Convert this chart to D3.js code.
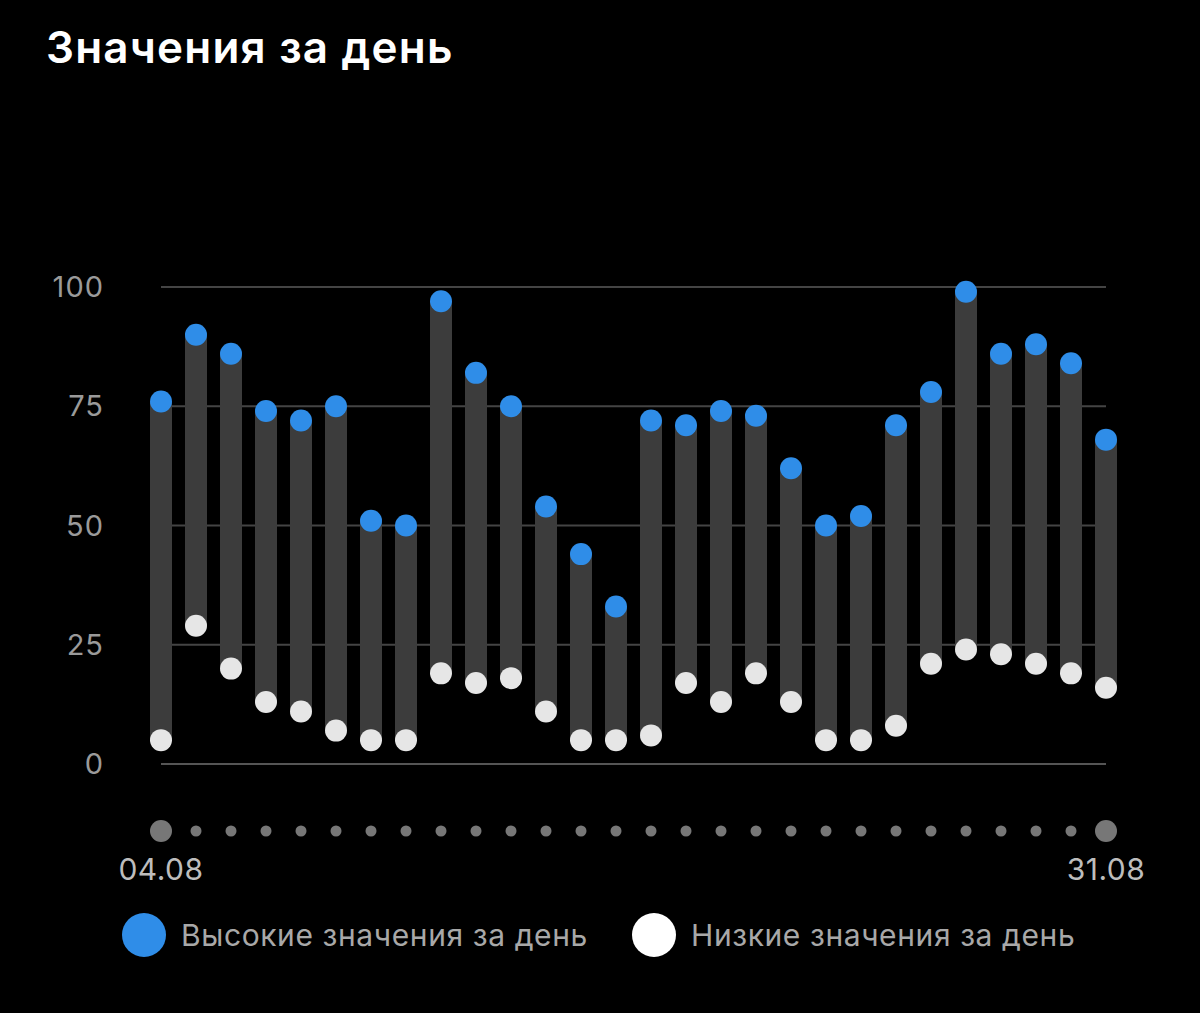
<!DOCTYPE html>
<html>
<head>
<meta charset="utf-8">
<script src="https://cdn.jsdelivr.net/npm/d3@7"></script>
<style>
  html, body { margin: 0; padding: 0; background: #000; }
  svg { display: block; }
</style>
</head>
<body>
<div id="chart"></div>
<script>
// daily high / low readings, 04.08 – 31.08
const days = ['04.08','05.08','06.08','07.08','08.08','09.08','10.08','11.08','12.08','13.08',
  '14.08','15.08','16.08','17.08','18.08','19.08','20.08','21.08','22.08','23.08',
  '24.08','25.08','26.08','27.08','28.08','29.08','30.08','31.08'];
const highValues = [76, 90, 86, 74, 72, 75, 51, 50, 97, 82, 75, 54, 44, 33, 72, 71, 74, 73, 62, 50,
  52, 71, 78, 99, 86, 88, 84, 68];
const lowValues = [5, 29, 20, 13, 11, 7, 5, 5, 19, 17, 18, 11, 5, 5, 6, 17, 13, 19, 13, 5,
  5, 8, 21, 24, 23, 21, 19, 16];
const yTicks = [0, 25, 50, 75, 100];
const legendLabels = ['Высокие значения за день', 'Низкие значения за день'];

(function() {
  const width = 1200;
  const height = 1013;
  const font = 'Inter, Roboto, sans-serif';

  const svg = d3.select('#chart').append('svg')
    .attr('width', width)
    .attr('height', height);

  svg.append('rect').attr('width', width).attr('height', height).attr('fill', '#000');

  svg.append('text')
    .attr('x', 46)
    .attr('y', 63)
    .attr('fill', '#fff')
    .style('font-family', font)
    .style('font-size', '44px')
    .style('font-weight', 600)
    .style('letter-spacing', '1.2px')
    .text('Значения за день');

  const x = d3.scalePoint().domain(days).range([161, 1106]);
  const y = d3.scaleLinear().domain([0, 100]).range([764, 287]);

  // grid + y labels
  const grid = svg.append('g');
  grid.selectAll('line')
    .data(yTicks)
    .enter().append('line')
    .attr('x1', 161)
    .attr('x2', 1106)
    .attr('y1', d => y(d))
    .attr('y2', d => y(d))
    .attr('stroke', d => d === 0 ? '#555' : '#444')
    .attr('stroke-width', 2);

  grid.selectAll('text')
    .data(yTicks)
    .enter().append('text')
    .attr('x', 104)
    .attr('y', d => y(d))
    .attr('dy', '0.35em')
    .attr('text-anchor', 'end')
    .attr('fill', '#9a9a9a')
    .style('font-family', font)
    .style('font-size', '29px')
    .style('letter-spacing', '1px')
    .text(d => d);

  const rows = days.map((d, i) => ({ day: d, high: highValues[i], low: lowValues[i] }));

  // range bars
  svg.append('g').selectAll('rect')
    .data(rows)
    .enter().append('rect')
    .attr('x', d => x(d.day) - 11)
    .attr('width', 22)
    .attr('y', d => y(d.high))
    .attr('height', d => y(d.low) - y(d.high))
    .attr('fill', '#3c3c3c');

  svg.append('g').selectAll('circle')
    .data(rows)
    .enter().append('circle')
    .attr('cx', d => x(d.day))
    .attr('cy', d => y(d.low))
    .attr('r', 11)
    .attr('fill', '#e6e6e6');

  svg.append('g').selectAll('circle')
    .data(rows)
    .enter().append('circle')
    .attr('cx', d => x(d.day))
    .attr('cy', d => y(d.high))
    .attr('r', 11)
    .attr('fill', '#2f8de8');

  // day dots under the chart
  const last = days.length - 1;
  svg.append('g').selectAll('circle')
    .data(days)
    .enter().append('circle')
    .attr('cx', d => x(d))
    .attr('cy', 831)
    .attr('r', (d, i) => (i === 0 || i === last) ? 11 : 5.5)
    .attr('fill', '#777');

  svg.append('g').selectAll('text')
    .data([days[0], days[last]])
    .enter().append('text')
    .attr('x', d => x(d))
    .attr('y', 880)
    .attr('text-anchor', 'middle')
    .attr('fill', '#bdbdbd')
    .style('font-family', font)
    .style('font-size', '30px')
    .style('letter-spacing', '0.5px')
    .text(d => d);

  // legend
  const legend = svg.append('g').selectAll('g')
    .data(legendLabels)
    .enter().append('g')
    .attr('transform', (d, i) => `translate(${i === 0 ? 144 : 654}, 935)`);

  legend.append('circle')
    .attr('r', 22)
    .attr('fill', (d, i) => i === 0 ? '#2f8de8' : '#fff');

  legend.append('text')
    .attr('x', 37)
    .attr('dy', '0.35em')
    .attr('fill', '#a8a8a8')
    .style('font-family', font)
    .style('font-size', '30px')
    .style('letter-spacing', '0.6px')
    .text(d => d);
})();
</script>
</body>
</html>
